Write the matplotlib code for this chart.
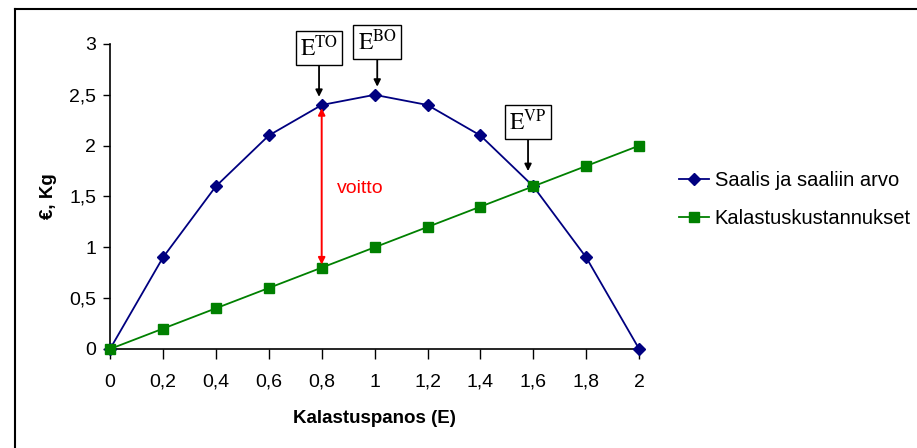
import matplotlib.pyplot as plt
from matplotlib.lines import Line2D

plt.rcParams['font.family'] = ['Liberation Sans', 'DejaVu Sans']
plt.rcParams['mathtext.fontset'] = 'stix'

# Kalastuspanos ja käyrien arvot
panos = [0, 0.2, 0.4, 0.6, 0.8, 1.0, 1.2, 1.4, 1.6, 1.8, 2.0]
saalis = [0, 0.9, 1.6, 2.1, 2.4, 2.5, 2.4, 2.1, 1.6, 0.9, 0]
kustannus = [0, 0.2, 0.4, 0.6, 0.8, 1.0, 1.2, 1.4, 1.6, 1.8, 2.0]

x_ticks = [0, 0.2, 0.4, 0.6, 0.8, 1.0, 1.2, 1.4, 1.6, 1.8, 2.0]
y_ticks = [0, 0.5, 1, 1.5, 2, 2.5, 3]

def pilkku(v):
    s = f'{v:g}'
    return s.replace('.', ',')

fig = plt.figure(figsize=(9.17, 4.48), dpi=100)
ax = fig.add_axes([0.12, 0.221, 0.577, 0.6808])

ax.plot(panos, saalis, color='#000080', marker='D', markersize=6,
        linewidth=1.3, label='Saalis ja saaliin arvo', clip_on=False, zorder=3)
ax.plot(panos, kustannus, color='#008000', marker='s', markersize=6.5,
        linewidth=1.3, label='Kalastuskustannukset', clip_on=False, zorder=3)

ax.set_xlim(0, 2)
ax.set_ylim(0, 3)
ax.set_xticks(x_ticks)
ax.set_xticklabels([pilkku(v) for v in x_ticks])
ax.set_yticks(y_ticks)
ax.set_yticklabels([pilkku(v) for v in y_ticks])
ax.tick_params(labelsize=14, width=1, direction='out')
ax.tick_params(axis='x', length=7, pad=11)
ax.tick_params(axis='y', length=5, pad=5)
for side in ['top', 'right']:
    ax.spines[side].set_visible(False)
for side in ['left', 'bottom']:
    ax.spines[side].set_linewidth(1.2)

ax.set_xlabel('Kalastuspanos (E)', fontsize=13.5, fontweight='bold', labelpad=14)
ax.set_ylabel('€, Kg', fontsize=13.5, fontweight='bold', labelpad=9)

# voitto-nuoli kohdassa E = 0,8
i = panos.index(0.8)
ax.annotate('', xy=(panos[i], kustannus[i] + 0.03), xytext=(panos[i], saalis[i] - 0.03),
            arrowprops=dict(arrowstyle='<|-|>', color='red', lw=1.4,
                            mutation_scale=10, shrinkA=0, shrinkB=0))
ax.text(0.945, 1.58, 'voitto', color='red', fontsize=14, ha='center', va='center')

# laatikoidut merkinnät
box = dict(boxstyle='square,pad=0.18', fc='white', ec='black', lw=1)
arrow = dict(arrowstyle='-|>', color='black', lw=1.3, mutation_scale=10,
             shrinkA=0, shrinkB=0)
merkinnat = [
    (r'$\mathrm{E}^{\mathrm{TO}}$', 0.79, 2.96, 2.48),
    (r'$\mathrm{E}^{\mathrm{BO}}$', 1.01, 3.02, 2.58),
    (r'$\mathrm{E}^{\mathrm{VP}}$', 1.58, 2.23, 1.75),
]
for teksti, x, y_txt, y_nuoli in merkinnat:
    ax.annotate(teksti, xy=(x, y_nuoli), xytext=(x, y_txt), fontsize=17,
                ha='center', va='center', bbox=box, arrowprops=arrow,
                annotation_clip=False)

fig.legend(loc='center left', bbox_to_anchor=(0.741, 0.555), frameon=False,
           fontsize=14.5, handlelength=1.45, handletextpad=0.3, labelspacing=0.95,
           borderpad=0, borderaxespad=0)

# kehys kuvan ympärillä
fig.add_artist(Line2D([15 / 917, 15 / 917], [0, 1 - 9 / 448], color='black', lw=1.5))
fig.add_artist(Line2D([15 / 917, 1], [1 - 9 / 448, 1 - 9 / 448], color='black', lw=1.5))

fig.savefig('out.png', dpi=100)
